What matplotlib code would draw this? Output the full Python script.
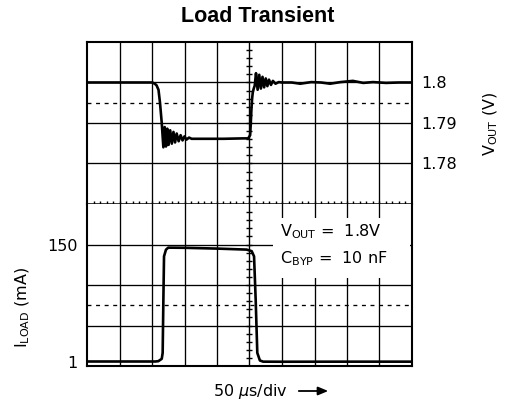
import matplotlib
matplotlib.use("Agg")
import matplotlib.pyplot as plt
from matplotlib.patches import Rectangle

plt.rcParams['font.family'] = ['DejaVu Sans']

# ---------------- data ----------------
title = "Load Transient"

# Output voltage trace (time in us, volts)
vout_t = [0, 100, 102, 105, 107, 110, 112.3, 115, 117.5, 119.5, 121.5, 123.5, 125.5,
          128, 130.5, 133, 135.5, 138, 141, 144, 147, 150, 153, 157, 161, 180, 210,
          240, 248, 251, 252, 253, 254, 255, 256.5, 258, 260, 262.5, 265, 267.5, 270,
          272.5, 275, 277.5, 280, 283, 286, 290, 295, 300, 315, 328, 345, 360, 374,
          390, 409, 425, 440, 460, 480, 500]
vout_v = [1.8000, 1.8000, 1.7999, 1.7996, 1.7993, 1.7982, 1.7950, 1.7900, 1.7840,
          1.7890, 1.7842, 1.7886, 1.7846, 1.7882, 1.7849, 1.7878, 1.7852, 1.7874,
          1.7855, 1.7870, 1.7857, 1.7867, 1.7859, 1.7864, 1.7861, 1.7861, 1.7861,
          1.7862, 1.7862, 1.7870, 1.7900, 1.7935, 1.7960, 1.7975, 1.7985, 1.7992,
          1.8023, 1.7982, 1.8019, 1.7985, 1.8014, 1.7988, 1.8010, 1.7991, 1.8007,
          1.7994, 1.8004, 1.7997, 1.8001, 1.8000, 1.8000, 1.7997, 1.8001, 1.8000,
          1.7997, 1.8001, 1.8004, 1.7999, 1.8001, 1.7999, 1.8000, 1.8000]

# Load current trace (time in us, mA)
iload_t = [0, 105, 109.7, 115, 116.4, 117.5, 118.5, 121.5, 125, 150, 200, 245.7,
           253.4, 257, 259.5, 262, 266, 271, 300, 400, 500]
iload_v = [1.0, 1.0, 1.4, 4.4, 12, 79.8, 134.9, 143.4, 146.0, 145.8, 144.8, 143.5,
           141.5, 134.9, 79.8, 12, 2.3, 0.8, 0.7, 0.8, 0.8]

vout_ticks = [1.78, 1.79, 1.80]
vout_ticklabels = ["1.78", "1.79", "1.8"]
iload_ticks = [1, 150]
iload_ticklabels = ["1", "150"]

# ---------------- layout ----------------
W, H = 505, 411
fig = plt.figure(figsize=(W / 100, H / 100), dpi=100)

L, R = 87 / W, 412 / W
T, M, B = 1 - 42 / H, 1 - 204 / H, 1 - 366 / H
ax_top = fig.add_axes([L, M, R - L, T - M])
ax_bot = fig.add_axes([L, B, R - L, M - B])

TDIV = 50.0                 # us per division
VDIV = 0.01                 # volts per division
IDIV = 149 / 117 * 40.5     # mA per division (1 mA ... 150 mA)

ax_top.set_xlim(0, 10 * TDIV)
ax_bot.set_xlim(0, 10 * TDIV)
ax_top.set_ylim(1.77, 1.81)
ax_bot.set_ylim(150 - 3 * IDIV, 150 + IDIV)

grid_kw = dict(color='black', lw=0.95, zorder=1)
for ax in (ax_top, ax_bot):
    for k in range(1, 10):
        if k != 5:
            ax.axvline(k * TDIV, **grid_kw)
    ax.set_xticks([])
    ax.tick_params(axis='y', length=0)

# horizontal grid
for v in (1.78, 1.79, 1.80):
    ax_top.axhline(v, **grid_kw)
ax_top.axhline(1.795, color='black', lw=0.95, ls=(0, (3, 3.5)), zorder=1)
for k in range(0, 3):
    ax_bot.axhline(150 - k * IDIV, **grid_kw)
ax_bot.axhline(150 - 1.5 * IDIV, color='black', lw=0.95, ls=(0, (3, 3.5)), zorder=1)

# center cross with minor ticks
ax_top.axvline(5 * TDIV, color='black', lw=1.0, zorder=1)
ax_bot.axvline(5 * TDIV, color='black', lw=1.0, zorder=1)
ax_top.plot([5 * TDIV] * 19, [1.77 + i * VDIV / 5 for i in range(1, 20)], ls='none',
            marker='_', ms=5, mew=1.0, color='black', zorder=1, clip_on=False)
ax_bot.plot([5 * TDIV] * 19, [150 - 3 * IDIV + i * IDIV / 5 for i in range(1, 20)],
            ls='none', marker='_', ms=5, mew=1.0, color='black', zorder=1)
ax_top.plot([i * TDIV / 5 for i in range(1, 50)], [1.77] * 49, ls='none',
            marker='|', ms=5, mew=1.0, color='black', zorder=1, clip_on=False)

# frame
for ax in (ax_top, ax_bot):
    for s in ax.spines.values():
        s.set_linewidth(1.5)
ax_top.spines['bottom'].set_linewidth(1.1)
ax_bot.spines['top'].set_visible(False)

# tick labels
ax_top.yaxis.tick_right()
ax_top.set_yticks(vout_ticks)
ax_top.set_yticklabels(vout_ticklabels, fontsize=11.5)
ax_top.tick_params(axis='y', pad=6.5)
ax_bot.set_yticks(iload_ticks)
ax_bot.set_yticklabels(iload_ticklabels, fontsize=11.5)
ax_bot.tick_params(axis='y', pad=6.5)

# traces
ax_top.plot(vout_t, vout_v, color='black', lw=1.9, zorder=4, solid_joinstyle='round')
ax_bot.plot(iload_t, iload_v, color='black', lw=1.9, zorder=4, solid_joinstyle='round')

# annotation box
ax_bot.add_patch(Rectangle((0.572, 0.543), 0.422, 0.371, transform=ax_bot.transAxes,
                           facecolor='white', edgecolor='none', zorder=2))
ax_bot.text(0.594, 0.798, r"V$_{\mathregular{OUT}}$ =  1.8V", transform=ax_bot.transAxes,
            fontsize=11.5, ha='left', va='baseline', zorder=3)
ax_bot.text(0.594, 0.636, r"C$_{\mathregular{BYP}}$ =  10 nF", transform=ax_bot.transAxes,
            fontsize=11.5, ha='left', va='baseline', zorder=3)

# axis labels
fig.text(491 / W, 1 - 124 / H, r"V$_{\mathregular{OUT}}$ (V)", rotation=90,
         ha='center', va='center', fontsize=11.5)
fig.text(23 / W, 1 - 307 / H, r"I$_{\mathregular{LOAD}}$ (mA)", rotation=90,
         ha='center', va='center', fontsize=11.5)
fig.text(213 / W, 1 - 391 / H, r"50 $\mu$s/div", ha='left', va='center', fontsize=11.5)
fig.add_artist(matplotlib.patches.FancyArrowPatch(
    (296 / W, 1 - 391 / H), (331 / W, 1 - 391 / H), transform=fig.transFigure,
    arrowstyle='-|>,head_length=6,head_width=2.5', color='black', lw=1.3, mutation_scale=1))

# title
fig.text(258 / W, 1 - 17 / H, title, ha='center', va='center', fontsize=15.5,
         fontweight='bold', family='Liberation Sans')

fig.savefig("out.png", dpi=100)
